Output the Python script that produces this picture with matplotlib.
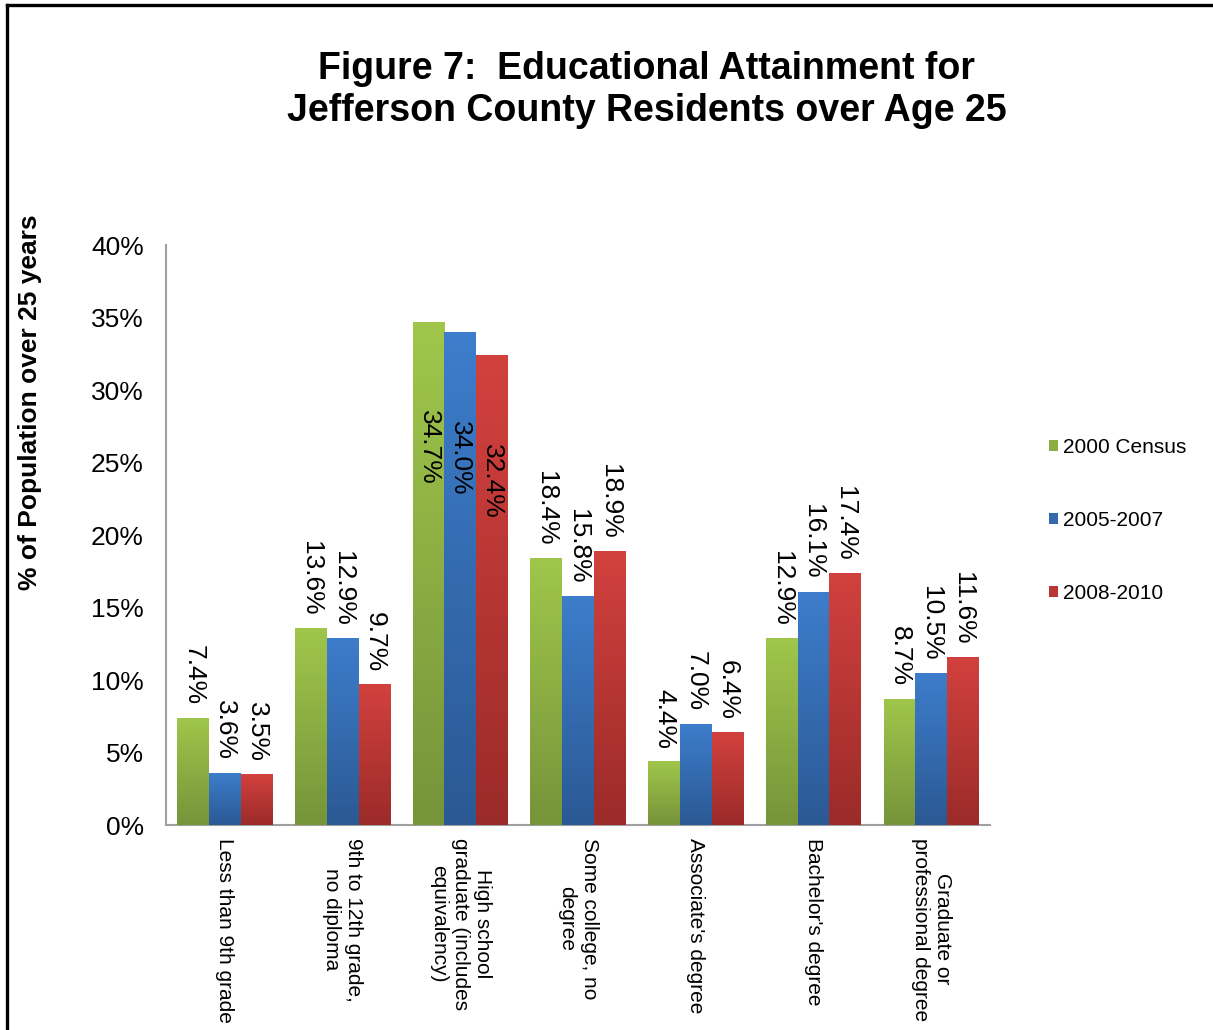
import numpy as np
import matplotlib
matplotlib.use("Agg")
import matplotlib.pyplot as plt
from matplotlib.colors import LinearSegmentedColormap
from matplotlib.lines import Line2D

plt.rcParams['font.family'] = ['Liberation Sans', 'DejaVu Sans']

# ---- data ----
categories = ["Less than 9th grade",
              "9th to 12th grade,\nno diploma",
              "High school\ngraduate (includes\nequivalency)",
              "Some college, no\ndegree",
              "Associate's degree",
              "Bachelor's degree",
              "Graduate or\nprofessional degree"]
series_names = ["2000 Census", "2005-2007", "2008-2010"]
census_2000 = [7.4, 13.6, 34.7, 18.4, 4.4, 12.9, 8.7]
acs_2005_2007 = [3.6, 12.9, 34.0, 15.8, 7.0, 16.1, 10.5]
acs_2008_2010 = [3.5, 9.7, 32.4, 18.9, 6.4, 17.4, 11.6]
yticks = [0, 5, 10, 15, 20, 25, 30, 35, 40]
inside_cat = 2  # labels drawn inside the bars for this category

# ---- colours (top, bottom of gradient) ----
grads = [("#a0c64b", "#76943a"),
         ("#3d7dcb", "#2b5994"),
         ("#d2413e", "#9b2b29")]
mids = ["#8cad44", "#3569ae", "#b93634"]

fig = plt.figure(figsize=(12.13, 10.30), dpi=100)
ax = fig.add_axes([0.1369, 0.199, 0.6793, 0.563])

x = np.arange(len(categories))
w = 0.27
allvals = [census_2000, acs_2005_2007, acs_2008_2010]
containers = []
for i, vals in enumerate(allvals):
    bars = ax.bar(x + (i - 1) * w, vals, w, color=mids[i], label=series_names[i],
                  linewidth=0, zorder=2)
    containers.append(bars)
    cmap = LinearSegmentedColormap.from_list("g%d" % i, [grads[i][1], grads[i][0]])
    for rect in bars:
        x0 = rect.get_x()
        h = rect.get_height()
        im = ax.imshow(np.linspace(0, 1, 100).reshape(-1, 1), extent=[x0, x0 + w, 0, h],
                       origin='lower', aspect='auto', cmap=cmap, zorder=3)
        im.set_clip_path(rect)
    for j, v in enumerate(vals):
        if j == inside_cat:
            ax.text(x[j] + (i - 1) * w, v - 6.1, "%.1f%%" % v, rotation=270,
                    ha='center', va='top', fontsize=19, zorder=5)
        else:
            ax.annotate("%.1f%%" % v, (x[j] + (i - 1) * w, v), xytext=(0, 9),
                        textcoords='offset points', rotation=270,
                        ha='center', va='bottom', fontsize=19, zorder=5)

ax.set_xlim(-0.5, len(categories) - 0.5)
ax.set_ylim(0, 40)
ax.set_yticks(yticks)
ax.set_yticklabels(["%d%%" % t for t in yticks], fontsize=19)
ax.set_xticks(x)
ax.set_xticklabels(categories, rotation=270, fontsize=15, va='top', ha='center')
ax.tick_params(axis='y', length=0, pad=16)
ax.tick_params(axis='x', length=0, pad=9)
for s in ['top', 'right']:
    ax.spines[s].set_visible(False)
for s in ['left', 'bottom']:
    ax.spines[s].set_color('#a0a0a0')
    ax.spines[s].set_linewidth(1.5)

fig.text(0.025, 0.61, "% of Population over 25 years", rotation=90, fontsize=19,
         fontweight='bold', ha='center', va='center')
fig.text(0.533, 0.913, "Figure 7:  Educational Attainment for\nJefferson County Residents over Age 25",
         fontsize=27, fontweight='bold', ha='center', va='center', linespacing=1.22)

ax.legend(handles=containers, loc='upper left', bbox_to_anchor=(0.849, 0.593),
          bbox_transform=fig.transFigure, frameon=False, fontsize=15,
          handlelength=0.45, handleheight=0.45, handletextpad=0.25, labelspacing=2.6)

# frame around the picture (top and left only)
fig.add_artist(Line2D([7 / 1213, 1], [1 - 5 / 1030, 1 - 5 / 1030], color='black',
                      lw=2.4, transform=fig.transFigure))
fig.add_artist(Line2D([7 / 1213, 7 / 1213], [0, 1 - 5 / 1030], color='black',
                      lw=2.4, transform=fig.transFigure))

fig.savefig("out.png", dpi=100)
